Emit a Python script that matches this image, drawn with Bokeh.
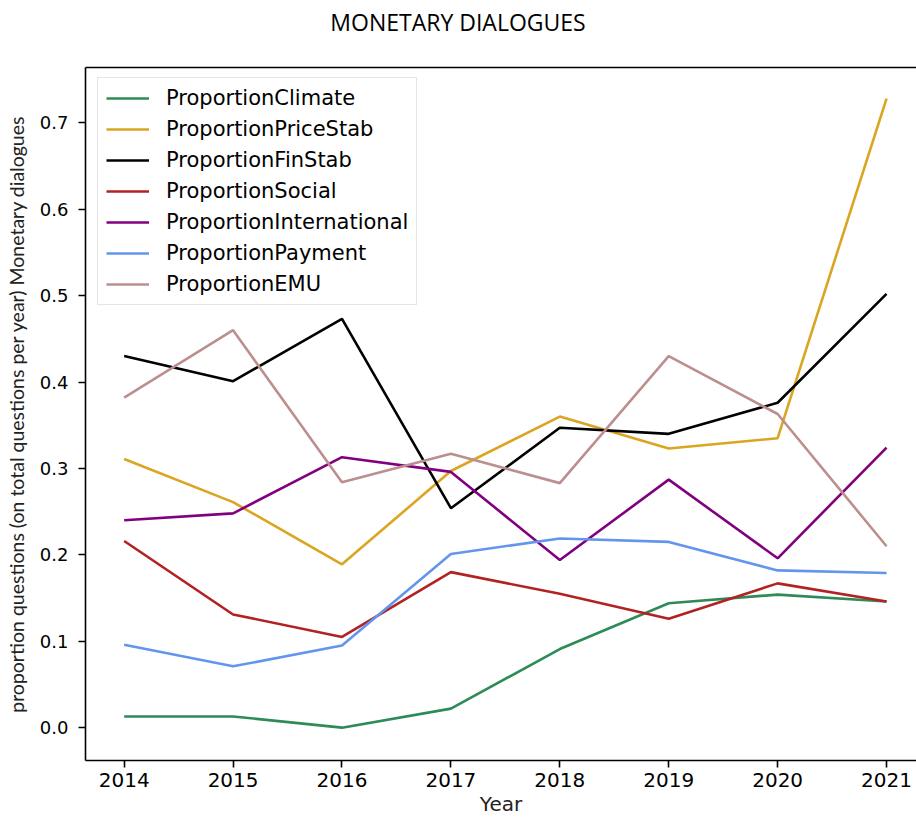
from bokeh.plotting import figure
from bokeh.models import Range1d, FixedTicker, Legend, LegendItem, LinearAxis, NumeralTickFormatter, Div
from bokeh.layouts import column
from bokeh.embed import file_html
from bokeh.resources import INLINE

years = [2014, 2015, 2016, 2017, 2018, 2019, 2020, 2021]
climate = [0.013, 0.013, 0.0, 0.022, 0.091, 0.144, 0.154, 0.146]
pricestab = [0.311, 0.261, 0.189, 0.297, 0.360, 0.323, 0.335, 0.728]
finstab = [0.430, 0.401, 0.473, 0.254, 0.347, 0.340, 0.376, 0.502]
social = [0.216, 0.131, 0.105, 0.180, 0.155, 0.126, 0.167, 0.146]
international = [0.240, 0.248, 0.313, 0.296, 0.194, 0.287, 0.196, 0.324]
payment = [0.096, 0.071, 0.095, 0.201, 0.219, 0.215, 0.182, 0.179]
emu = [0.382, 0.460, 0.284, 0.317, 0.283, 0.430, 0.363, 0.210]

series_names = ["ProportionClimate", "ProportionPriceStab", "ProportionFinStab",
                "ProportionSocial", "ProportionInternational", "ProportionPayment",
                "ProportionEMU"]
series_values = [climate, pricestab, finstab, social, international, payment, emu]
series_colors = ["#2e8b57", "#daa520", "#000000", "#b22222", "#800080", "#6495ed", "#bc8f8f"]
y_ticks = [0.0, 0.1, 0.2, 0.3, 0.4, 0.5, 0.6, 0.7]
title_text = "MONETARY DIALOGUES"

title_div = Div(text=title_text, width=916, height=40, margin=(0, 0, 0, 0),
                styles={"text-align": "center", "font-family": "Open Sans",
                        "font-size": "23px", "color": "black", "padding-top": "6px",
                        "box-sizing": "border-box"})

p = figure(width=916, height=780, output_backend="svg", toolbar_location=None,
           x_range=Range1d(2013.645, 2021.275), y_range=Range1d(-0.038, 0.764),
           min_border_left=85, min_border_right=0, min_border_top=27, min_border_bottom=60,
           margin=(0, 0, 0, 0))
p.outline_line_color = None
p.grid.visible = False
p.background_fill_color = "white"
p.title.text = ""

items = []
for name, vals, col in zip(series_names, series_values, series_colors):
    r = p.line(years, vals, line_color=col, line_width=2.6)
    items.append(LegendItem(label=name, renderers=[r]))

legend = Legend(items=items, location=(12, 455), margin=0, padding=8,
                spacing=7, glyph_width=43, glyph_height=20, label_height=20,
                label_standoff=17, label_text_font="DejaVu Sans",
                label_text_font_size="21px", label_text_color="black",
                border_line_color="#cccccc",
                border_line_width=1.5, background_fill_alpha=0.8)
p.add_layout(legend)

for ax in p.xaxis + p.yaxis:
    ax.axis_line_color = "black"
    ax.axis_line_width = 1.6
    ax.major_tick_line_color = "black"
    ax.major_tick_line_width = 1.6
    ax.major_tick_out = 7
    ax.major_tick_in = 0
    ax.minor_tick_line_color = None
    ax.major_label_text_font = "DejaVu Sans"
    ax.major_label_text_color = "black"

p.xaxis.ticker = FixedTicker(ticks=years)
p.xaxis.major_label_text_font_size = "20px"
p.xaxis.major_label_standoff = 5
p.xaxis.axis_label = "Year"
p.xaxis.axis_label_text_font = "DejaVu Sans"
p.xaxis.axis_label_text_font_size = "20px"
p.xaxis.axis_label_text_font_style = "normal"
p.xaxis.axis_label_text_color = "#222222"
p.xaxis.axis_label_standoff = 2

p.yaxis.ticker = FixedTicker(ticks=y_ticks)
p.yaxis.formatter = NumeralTickFormatter(format="0.0")
p.yaxis.major_label_text_font_size = "18px"
p.yaxis.major_label_standoff = 10
p.yaxis.axis_label = "proportion questions (on total questions per year) Monetary dialogues"
p.yaxis.axis_label_text_font = "Lato"
p.yaxis.axis_label_text_font_size = "19.5px"
p.yaxis.axis_label_text_font_style = "normal"
p.yaxis.axis_label_text_color = "#222222"
p.yaxis.axis_label_standoff = 9

top_axis = LinearAxis(major_tick_line_color=None, minor_tick_line_color=None,
                      major_tick_out=0, major_tick_in=0, major_label_standoff=0,
                      major_label_text_font_size="0px", axis_line_color="black",
                      axis_line_width=1.6, ticker=FixedTicker(ticks=[]))
p.add_layout(top_axis, "above")

layout = column(title_div, p, spacing=0, margin=(0, 0, 0, 0))
open("out.html", "w").write(file_html(layout, INLINE))
